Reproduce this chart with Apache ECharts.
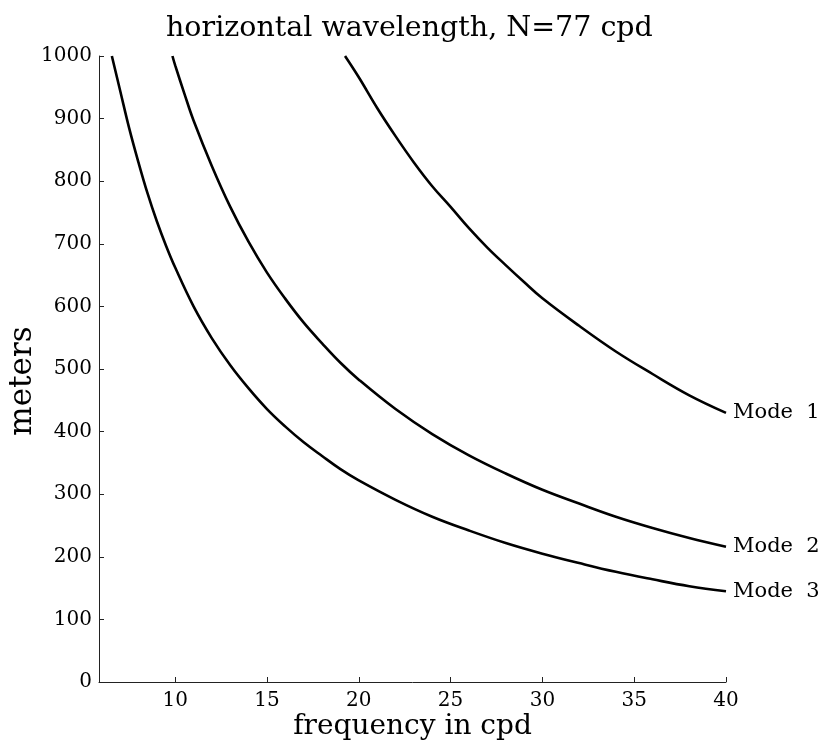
<!DOCTYPE html>
<html>
<head>
<meta charset="utf-8">
<title>horizontal wavelength</title>
<script src="https://cdn.jsdelivr.net/npm/echarts@6.0.0/dist/echarts.min.js"></script>
<style>
    html, body {margin: 0; padding: 0; background: #fff;}
    #chart {width: 827px; height: 746px;}
</style>
</head>
<body>
<div id="chart"></div>
<script>
// values (frequency in cpd -> wavelength in meters)
const freq_mode1 = [19.25, 20, 21, 22, 23, 24, 25, 26, 27, 28, 29, 30, 32, 34, 36, 38, 40];
const len_mode1 = [1000, 966, 917, 872, 830, 792, 759, 725, 694, 666, 639, 613, 569, 528, 492, 458, 430];

const freq_mode2 = [9.85, 10, 10.5, 11, 12, 13, 14, 15, 16, 17, 18, 19, 20, 22, 24, 26, 28, 30, 32, 34, 36, 38, 40];
const len_mode2 = [1000, 985, 940, 897, 824, 759, 703, 654, 612, 574, 541, 510, 483, 436, 396, 362, 333, 307, 285, 264, 246, 230, 216];

const freq_mode3 = [6.55, 7, 7.5, 8, 8.5, 9, 9.5, 10, 11, 12, 13, 14, 15, 16, 17, 18, 19, 20, 22, 24, 26, 28, 30, 32, 34, 36, 38, 40];
const len_mode3 = [1000, 945, 884, 830, 780, 736, 697, 662, 600, 549, 506, 469, 436, 408, 383, 361, 340, 322, 291, 264, 242, 222, 205, 190, 176, 164, 153, 145];

const mode_names = ['Mode  1', 'Mode  2', 'Mode  3'];

const font = 'DejaVu Serif';
const chart = echarts.init(document.getElementById('chart'));

function make_series(freqs, vals, name) {
    return {
        type: 'line',
        name: name,
        data: freqs.map((f, i) => [f, vals[i]]),
        showSymbol: false,
        smooth: 0.4,
        lineStyle: {color: '#000', width: 2.6},
        endLabel: {
            show: true, formatter: name, distance: 7,
            fontFamily: font, fontSize: 21, color: '#000'
        }
    };
}

chart.setOption({
    animation: false,
    backgroundColor: '#fff',
    title: {
        text: 'horizontal wavelength, N=77 cpd',
        left: 161, top: 9,
        textStyle: {fontFamily: font, fontSize: 28.5, fontWeight: 'normal', color: '#000'}
    },
    grid: {left: 99, right: 101, top: 56, bottom: 64, containLabel: false, outerBoundsMode: 'none'},
    xAxis: {
        type: 'value', min: 5.85, max: 40, splitNumber: 7, minInterval: 5, maxInterval: 5,
        name: 'frequency in cpd', nameLocation: 'middle', nameGap: 31, nameMoveOverlap: false,
        nameTextStyle: {fontFamily: font, fontSize: 28, color: '#000'},
        axisLine: {lineStyle: {color: '#222', width: 1}},
        axisTick: {inside: true, length: 5, lineStyle: {color: '#222'}},
        axisLabel: {
            margin: 9, fontFamily: font, fontSize: 20, color: '#000',
            formatter: v => (v % 5 === 0 ? String(v) : '')
        },
        splitLine: {show: false}
    },
    yAxis: {
        type: 'value', min: 0, max: 1000, interval: 100,
        name: 'meters', nameLocation: 'middle', nameGap: 61, nameMoveOverlap: false,
        nameTextStyle: {fontFamily: font, fontSize: 31, color: '#000', padding: [0, 24, 0, 0]},
        axisLine: {show: true, lineStyle: {color: '#222', width: 1}},
        axisTick: {show: true, inside: true, length: 5, lineStyle: {color: '#222'}},
        axisLabel: {
            margin: 7, fontFamily: font, fontSize: 20, color: '#000',
            formatter: v => String(v)
        },
        splitLine: {show: false}
    },
    series: [
        make_series(freq_mode1, len_mode1, mode_names[0]),
        make_series(freq_mode2, len_mode2, mode_names[1]),
        make_series(freq_mode3, len_mode3, mode_names[2])
    ]
});
</script>
</body>
</html>
